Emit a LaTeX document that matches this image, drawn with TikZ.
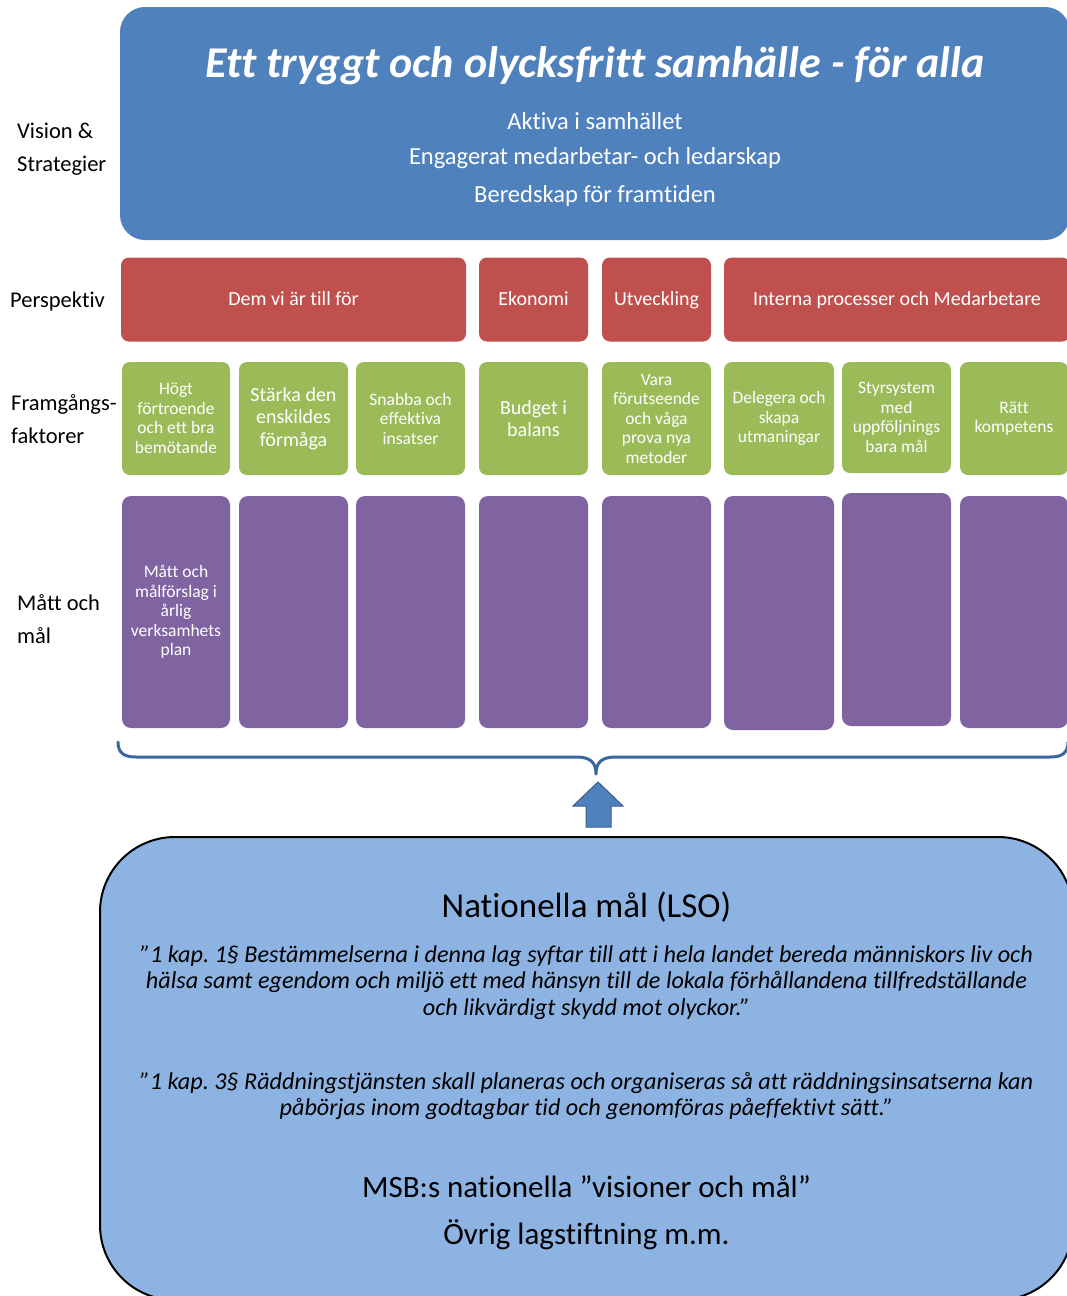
\documentclass[tikz,border=0pt]{standalone}
\usepackage{fontspec}
\setmainfont[Ligatures={NoCommon}]{Carlito}
\definecolor{bluec}{RGB}{79,129,189}
\definecolor{bluedark}{RGB}{56,93,138}
\definecolor{redc}{RGB}{192,80,77}
\definecolor{greenc}{RGB}{155,187,89}
\definecolor{purplec}{RGB}{128,100,162}
\definecolor{lightbluec}{RGB}{141,179,226}
\definecolor{bracec}{RGB}{58,103,160}
\tikzset{
  sidelabel/.style={anchor=west, align=left, inner sep=0pt, font=\fontsize{22.5}{33}\selectfont},
  redbox/.style={fill=redc, rounded corners=8pt, text=white, minimum height=84pt, inner sep=0pt, text height=13pt, text depth=4pt, font=\fontsize{20}{24}\selectfont},
  redlabel/.style={text=white, inner sep=0pt, text height=13pt, text depth=4pt, font=\fontsize{20}{24}\selectfont},
  greenbox/.style={fill=greenc, rounded corners=8pt, text=white, minimum height=113pt, minimum width=108pt, align=center, inner sep=0pt, font=\fontsize{17.5}{19.5}\selectfont},
  greenbig/.style={greenbox, font=\fontsize{20}{22.5}\selectfont},
  purplebox/.style={fill=purplec, rounded corners=9pt, text=white, minimum width=108pt, minimum height=232pt, align=center, inner sep=0pt, font=\fontsize{17.5}{19.5}\selectfont},
  whitetext/.style={text=white, inner sep=0pt},
  quotetext/.style={align=center, inner sep=0pt, font=\fontsize{24.2}{26.5}\selectfont\itshape},
  bigtext/.style={inner sep=0pt, font=\fontsize{31}{36}\selectfont}
}
\begin{document}
\frenchspacing
\begin{tikzpicture}[x=1pt,y=-1pt]
\useasboundingbox (0,0) rectangle (1067,1296);
\clip (0,0) rectangle (1067,1296);
\fill[white] (0,0) rectangle (1067,1296);

% side labels
\node[sidelabel] (lvision) at (17,149.5) {Vision \&\\Strategier};
\node[sidelabel] (lpersp) at (10,301) {Perspektiv};
\node[sidelabel] (lfram) at (11,419.5) {Framgångs-\\faktorer};
\node[sidelabel] (lmatt) at (17,619) {Mått och\\mål};

% vision box
\node[fill=bluec, rounded corners=25pt, minimum width=950pt, minimum height=233pt, inner sep=0pt] (vision) at (595,123.5) {};
\node[whitetext, font=\fontsize{44}{48}\selectfont\bfseries\itshape] (title) at (595,66) {Ett tryggt och olycksfritt samhälle - för alla};
\node[whitetext, font=\fontsize{24.5}{28}\selectfont] (s1) at (595,121.5) {Aktiva i samhället};
\node[whitetext, font=\fontsize{24.5}{28}\selectfont] (s2) at (595,158.5) {Engagerat medarbetar- och ledarskap};
\node[whitetext, font=\fontsize{24.5}{28}\selectfont] (s3) at (595,195.5) {Beredskap för framtiden};

% perspektiv
\node[redbox, minimum width=345pt] (r1) at (293.5,299.5) {};
\node[redbox, minimum width=109pt] (r2) at (533.5,299.5) {};
\node[redbox, minimum width=109pt] (r3) at (656.5,299.5) {};
\node[redbox, minimum width=346pt] (r4) at (897,299.5) {};
\node[redlabel] (r1t) at (293.5,301) {Dem vi är till för};
\node[redlabel] (r2t) at (533.5,301) {Ekonomi};
\node[redlabel] (r3t) at (656.5,301) {Utveckling};
\node[redlabel] (r4t) at (897,301) {Interna processer och Medarbetare};

% framgangsfaktorer
\node[greenbox] (g1) at (176,418.5) {Högt\\förtroende\\och ett bra\\bemötande};
\node[greenbig, minimum width=109pt] (g2) at (293.5,418.5) {Stärka den\\enskildes\\förmåga};
\node[greenbox, minimum width=109pt] (g3) at (410.5,418.5) {Snabba och\\effektiva\\insatser};
\node[greenbig, minimum width=109pt] (g4) at (533.5,418.5) {Budget i\\balans};
\node[greenbox, minimum width=109pt] (g5) at (656.5,418.5) {Vara\\förutseende\\och våga\\prova nya\\metoder};
\node[greenbox, minimum width=110pt] (g6) at (779,418.5) {Delegera och\\skapa\\utmaningar};
\node[greenbox, minimum width=109pt, minimum height=111pt] (g7) at (896.5,417.5) {Styrsystem\\med\\uppföljnings\\bara mål};
\node[greenbox] (g8) at (1014,418.5) {Rätt\\kompetens};

% matt och mal
\node[purplebox] (p1) at (176,612) {Mått och\\målförslag i\\årlig\\verksamhets\\plan};
\node[purplebox, minimum width=109pt] (p2) at (293.5,612) {};
\node[purplebox, minimum width=109pt] (p3) at (410.5,612) {};
\node[purplebox, minimum width=109pt] (p4) at (533.5,612) {};
\node[purplebox, minimum width=109pt] (p5) at (656.5,612) {};
\node[purplebox, minimum width=110pt, minimum height=234pt] (p6) at (779,613) {};
\node[purplebox, minimum width=109pt, minimum height=233pt] (p7) at (896.5,609.5) {};
\node[purplebox] (p8) at (1014,612) {};

% brace
\coordinate (bl) at (118,742);
\coordinate (bm) at (596,774);
\coordinate (br) at (1068,742);
\draw[bracec, line width=3pt, line cap=round, line join=round]
  (bl) .. controls (118,753) and (124,757) .. (136,757) -- (576,757)
  .. controls (590,757) and (596,762) .. (bm)
  .. controls (596,762) and (602,757) .. (616,757) -- (1050,757)
  .. controls (1062,757) and (1068,753) .. (br);

% arrow
\draw[fill=bluec, draw=bluedark, line width=1pt, line join=miter]
  (598,782) -- (623,806) -- (611,806) -- (611,827) -- (586,827) -- (586,806) -- (573,806) -- cycle;

% national box
\node[fill=lightbluec, draw=black, line width=2pt, rounded corners=75pt, minimum width=973pt, minimum height=463pt, inner sep=0pt] (nat) at (586.5,1068.5) {};
\node[bigtext, font=\fontsize{35}{40}\selectfont] (nt) at (586.5,907) {Nationella mål (LSO)};
\node[quotetext] (q1) at (586.5,982.5) {”1 kap. 1§ Bestämmelserna i denna lag syftar till att i hela landet bereda människors liv och\\hälsa samt egendom och miljö ett med hänsyn till de lokala förhållandena tillfredställande\\och likvärdigt skydd mot olyckor.”};
\node[quotetext] (q2) at (586.5,1096) {”1 kap. 3§ Räddningstjänsten skall planeras och organiseras så att räddningsinsatserna kan\\påbörjas inom godtagbar tid och genomföras påeffektivt sätt.”};
\node[bigtext] (msb) at (586.5,1187) {MSB:s nationella ”visioner och mål”};
\node[bigtext] (ovr) at (586.5,1235) {Övrig lagstiftning m.m.};
\end{tikzpicture}
\end{document}
